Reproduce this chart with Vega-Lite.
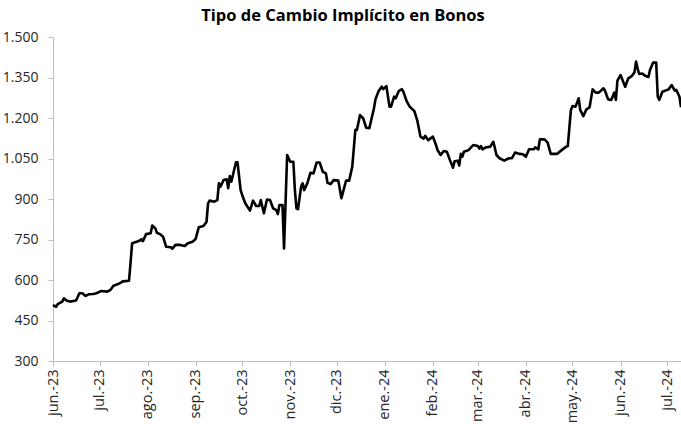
{
  "$schema": "https://vega.github.io/schema/vega-lite/v6.json",
  "width": 628,
  "height": 324,
  "autosize": "none",
  "padding": {"left": 53, "top": 37, "right": 0, "bottom": 63},
  "background": "white",
  "title": {
    "text": "Tipo de Cambio Implícito en Bonos",
    "font": "Open Sans",
    "fontSize": 16.5,
    "fontWeight": "bold",
    "color": "#000000",
    "anchor": "middle",
    "dx": -24,
    "offset": 6
  },
  "config": {"view": {"stroke": null}},
  "data": {
    "values": [
      {"date": "2023-06-01", "tc": 507},
      {"date": "2023-06-03", "tc": 501},
      {"date": "2023-06-04", "tc": 511},
      {"date": "2023-06-07", "tc": 520},
      {"date": "2023-06-08", "tc": 532},
      {"date": "2023-06-10", "tc": 523},
      {"date": "2023-06-12", "tc": 520},
      {"date": "2023-06-15", "tc": 523},
      {"date": "2023-06-16", "tc": 525},
      {"date": "2023-06-18", "tc": 551},
      {"date": "2023-06-20", "tc": 551},
      {"date": "2023-06-22", "tc": 541},
      {"date": "2023-06-24", "tc": 547},
      {"date": "2023-06-27", "tc": 548},
      {"date": "2023-06-29", "tc": 551},
      {"date": "2023-07-02", "tc": 559},
      {"date": "2023-07-06", "tc": 557},
      {"date": "2023-07-08", "tc": 563},
      {"date": "2023-07-10", "tc": 579},
      {"date": "2023-07-13", "tc": 585},
      {"date": "2023-07-15", "tc": 591},
      {"date": "2023-07-16", "tc": 595},
      {"date": "2023-07-20", "tc": 597},
      {"date": "2023-07-21", "tc": 662},
      {"date": "2023-07-22", "tc": 736},
      {"date": "2023-07-25", "tc": 742},
      {"date": "2023-07-27", "tc": 746},
      {"date": "2023-07-28", "tc": 751},
      {"date": "2023-07-29", "tc": 744},
      {"date": "2023-07-31", "tc": 770},
      {"date": "2023-08-03", "tc": 773},
      {"date": "2023-08-04", "tc": 802},
      {"date": "2023-08-06", "tc": 791},
      {"date": "2023-08-07", "tc": 775},
      {"date": "2023-08-09", "tc": 770},
      {"date": "2023-08-11", "tc": 760},
      {"date": "2023-08-13", "tc": 723},
      {"date": "2023-08-16", "tc": 721},
      {"date": "2023-08-17", "tc": 716},
      {"date": "2023-08-19", "tc": 730},
      {"date": "2023-08-22", "tc": 730},
      {"date": "2023-08-25", "tc": 726},
      {"date": "2023-08-27", "tc": 736},
      {"date": "2023-08-30", "tc": 742},
      {"date": "2023-09-01", "tc": 752},
      {"date": "2023-09-03", "tc": 795},
      {"date": "2023-09-06", "tc": 800},
      {"date": "2023-09-08", "tc": 815},
      {"date": "2023-09-09", "tc": 884},
      {"date": "2023-09-10", "tc": 894},
      {"date": "2023-09-13", "tc": 890},
      {"date": "2023-09-15", "tc": 896},
      {"date": "2023-09-16", "tc": 958},
      {"date": "2023-09-17", "tc": 946},
      {"date": "2023-09-19", "tc": 970},
      {"date": "2023-09-21", "tc": 973},
      {"date": "2023-09-22", "tc": 940},
      {"date": "2023-09-23", "tc": 985},
      {"date": "2023-09-24", "tc": 964},
      {"date": "2023-09-27", "tc": 1036},
      {"date": "2023-09-28", "tc": 1036},
      {"date": "2023-09-30", "tc": 933},
      {"date": "2023-10-01", "tc": 915},
      {"date": "2023-10-03", "tc": 884},
      {"date": "2023-10-06", "tc": 857},
      {"date": "2023-10-08", "tc": 894},
      {"date": "2023-10-10", "tc": 874},
      {"date": "2023-10-12", "tc": 874},
      {"date": "2023-10-13", "tc": 896},
      {"date": "2023-10-15", "tc": 847},
      {"date": "2023-10-17", "tc": 898},
      {"date": "2023-10-19", "tc": 896},
      {"date": "2023-10-21", "tc": 865},
      {"date": "2023-10-23", "tc": 859},
      {"date": "2023-10-24", "tc": 844},
      {"date": "2023-10-25", "tc": 878},
      {"date": "2023-10-27", "tc": 878},
      {"date": "2023-10-28", "tc": 717},
      {"date": "2023-10-30", "tc": 1063},
      {"date": "2023-11-01", "tc": 1038},
      {"date": "2023-11-03", "tc": 1038},
      {"date": "2023-11-04", "tc": 933},
      {"date": "2023-11-05", "tc": 865},
      {"date": "2023-11-06", "tc": 862},
      {"date": "2023-11-08", "tc": 946},
      {"date": "2023-11-09", "tc": 958},
      {"date": "2023-11-10", "tc": 933},
      {"date": "2023-11-12", "tc": 958},
      {"date": "2023-11-14", "tc": 997},
      {"date": "2023-11-16", "tc": 995},
      {"date": "2023-11-18", "tc": 1035},
      {"date": "2023-11-20", "tc": 1035},
      {"date": "2023-11-22", "tc": 1001},
      {"date": "2023-11-24", "tc": 995},
      {"date": "2023-11-25", "tc": 960},
      {"date": "2023-11-27", "tc": 955},
      {"date": "2023-11-29", "tc": 970},
      {"date": "2023-12-02", "tc": 968},
      {"date": "2023-12-04", "tc": 903},
      {"date": "2023-12-07", "tc": 968},
      {"date": "2023-12-09", "tc": 968},
      {"date": "2023-12-11", "tc": 1020},
      {"date": "2023-12-13", "tc": 1156},
      {"date": "2023-12-14", "tc": 1156},
      {"date": "2023-12-16", "tc": 1211},
      {"date": "2023-12-18", "tc": 1199},
      {"date": "2023-12-20", "tc": 1164},
      {"date": "2023-12-22", "tc": 1162},
      {"date": "2023-12-25", "tc": 1236},
      {"date": "2023-12-26", "tc": 1270},
      {"date": "2023-12-28", "tc": 1300},
      {"date": "2023-12-30", "tc": 1316},
      {"date": "2023-12-31", "tc": 1307},
      {"date": "2024-01-02", "tc": 1318},
      {"date": "2024-01-04", "tc": 1242},
      {"date": "2024-01-05", "tc": 1242},
      {"date": "2024-01-07", "tc": 1279},
      {"date": "2024-01-08", "tc": 1273},
      {"date": "2024-01-10", "tc": 1300},
      {"date": "2024-01-12", "tc": 1307},
      {"date": "2024-01-13", "tc": 1297},
      {"date": "2024-01-15", "tc": 1263},
      {"date": "2024-01-17", "tc": 1242},
      {"date": "2024-01-20", "tc": 1226},
      {"date": "2024-01-22", "tc": 1189},
      {"date": "2024-01-24", "tc": 1131},
      {"date": "2024-01-26", "tc": 1124},
      {"date": "2024-01-27", "tc": 1134},
      {"date": "2024-01-29", "tc": 1118},
      {"date": "2024-02-01", "tc": 1131},
      {"date": "2024-02-03", "tc": 1100},
      {"date": "2024-02-04", "tc": 1081},
      {"date": "2024-02-06", "tc": 1063},
      {"date": "2024-02-08", "tc": 1078},
      {"date": "2024-02-10", "tc": 1075},
      {"date": "2024-02-12", "tc": 1044},
      {"date": "2024-02-14", "tc": 1016},
      {"date": "2024-02-15", "tc": 1040},
      {"date": "2024-02-17", "tc": 1042},
      {"date": "2024-02-18", "tc": 1024},
      {"date": "2024-02-19", "tc": 1067},
      {"date": "2024-02-20", "tc": 1057},
      {"date": "2024-02-21", "tc": 1075},
      {"date": "2024-02-24", "tc": 1081},
      {"date": "2024-02-27", "tc": 1100},
      {"date": "2024-03-01", "tc": 1096},
      {"date": "2024-03-02", "tc": 1087},
      {"date": "2024-03-03", "tc": 1096},
      {"date": "2024-03-04", "tc": 1084},
      {"date": "2024-03-06", "tc": 1091},
      {"date": "2024-03-09", "tc": 1094},
      {"date": "2024-03-11", "tc": 1112},
      {"date": "2024-03-13", "tc": 1063},
      {"date": "2024-03-15", "tc": 1051},
      {"date": "2024-03-18", "tc": 1042},
      {"date": "2024-03-21", "tc": 1051},
      {"date": "2024-03-23", "tc": 1051},
      {"date": "2024-03-25", "tc": 1072},
      {"date": "2024-03-28", "tc": 1067},
      {"date": "2024-03-30", "tc": 1066},
      {"date": "2024-04-01", "tc": 1057},
      {"date": "2024-04-03", "tc": 1084},
      {"date": "2024-04-06", "tc": 1084},
      {"date": "2024-04-07", "tc": 1091},
      {"date": "2024-04-09", "tc": 1084},
      {"date": "2024-04-10", "tc": 1121},
      {"date": "2024-04-13", "tc": 1121},
      {"date": "2024-04-15", "tc": 1109},
      {"date": "2024-04-17", "tc": 1067},
      {"date": "2024-04-19", "tc": 1067},
      {"date": "2024-04-21", "tc": 1067},
      {"date": "2024-04-24", "tc": 1081},
      {"date": "2024-04-27", "tc": 1094},
      {"date": "2024-04-28", "tc": 1096},
      {"date": "2024-04-30", "tc": 1230},
      {"date": "2024-05-01", "tc": 1244},
      {"date": "2024-05-03", "tc": 1242},
      {"date": "2024-05-05", "tc": 1273},
      {"date": "2024-05-06", "tc": 1230},
      {"date": "2024-05-08", "tc": 1207},
      {"date": "2024-05-10", "tc": 1232},
      {"date": "2024-05-12", "tc": 1239},
      {"date": "2024-05-14", "tc": 1306},
      {"date": "2024-05-16", "tc": 1294},
      {"date": "2024-05-18", "tc": 1294},
      {"date": "2024-05-21", "tc": 1310},
      {"date": "2024-05-22", "tc": 1301},
      {"date": "2024-05-24", "tc": 1269},
      {"date": "2024-05-26", "tc": 1267},
      {"date": "2024-05-28", "tc": 1294},
      {"date": "2024-05-29", "tc": 1267},
      {"date": "2024-05-30", "tc": 1338},
      {"date": "2024-06-01", "tc": 1359},
      {"date": "2024-06-04", "tc": 1316},
      {"date": "2024-06-06", "tc": 1347},
      {"date": "2024-06-08", "tc": 1354},
      {"date": "2024-06-10", "tc": 1369},
      {"date": "2024-06-11", "tc": 1409},
      {"date": "2024-06-12", "tc": 1384},
      {"date": "2024-06-13", "tc": 1363},
      {"date": "2024-06-15", "tc": 1365},
      {"date": "2024-06-17", "tc": 1356},
      {"date": "2024-06-19", "tc": 1352},
      {"date": "2024-06-20", "tc": 1378},
      {"date": "2024-06-22", "tc": 1405},
      {"date": "2024-06-24", "tc": 1405},
      {"date": "2024-06-25", "tc": 1279},
      {"date": "2024-06-26", "tc": 1267},
      {"date": "2024-06-28", "tc": 1297},
      {"date": "2024-07-02", "tc": 1306},
      {"date": "2024-07-04", "tc": 1322},
      {"date": "2024-07-06", "tc": 1301},
      {"date": "2024-07-07", "tc": 1304},
      {"date": "2024-07-09", "tc": 1279},
      {"date": "2024-07-10", "tc": 1240}
    ]
  },
  "mark": {"type": "line", "color": "#000000", "strokeWidth": 2.6, "strokeJoin": "round"},
  "encoding": {
    "x": {
      "field": "date",
      "type": "temporal",
      "scale": {
        "type": "utc",
        "domain": [
          {"year": 2023, "month": 6, "date": 1, "utc": true},
          {"year": 2024, "month": 7, "date": 10, "utc": true}
        ]
      },
      "axis": {
        "title": null,
        "grid": false,
        "tickCount": {"interval": "month", "step": 1},
        "labelExpr": "['ene.','feb.','mar.','abr.','may.','jun.','jul.','ago.','sep.','oct.','nov.','dic.'][utcmonth(datum.value)] + '-' + utcFormat(datum.value, '%y')",
        "labelAngle": -90,
        "labelFont": "Open Sans",
        "labelFontSize": 14.5,
        "labelColor": "#262626",
        "labelPadding": 3,
        "labelOverlap": false,
        "labelFlush": false,
        "domainColor": "#bfbfbf",
        "tickColor": "#bfbfbf",
        "tickSize": 5
      }
    },
    "y": {
      "field": "tc",
      "type": "quantitative",
      "scale": {"domain": [300, 1500], "nice": false, "zero": false},
      "axis": {
        "title": null,
        "grid": false,
        "values": [300, 450, 600, 750, 900, 1050, 1200, 1350, 1500],
        "labelExpr": "replace(format(datum.value, ','), ',', '.')",
        "labelFont": "Open Sans",
        "labelFontSize": 14,
        "labelColor": "#262626",
        "labelPadding": 10,
        "domainColor": "#bfbfbf",
        "tickColor": "#bfbfbf",
        "tickSize": 5
      }
    }
  }
}
